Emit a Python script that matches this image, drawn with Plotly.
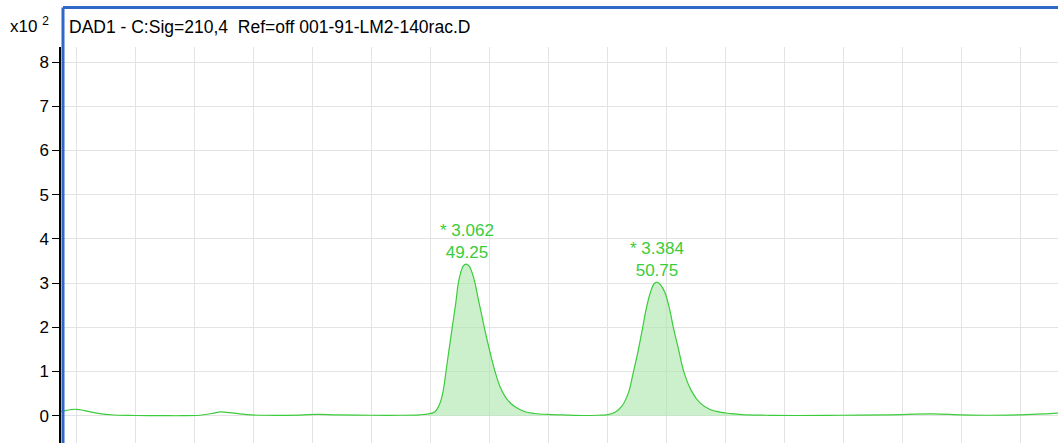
import plotly.graph_objects as go

# Retention time (min) and signal (x100 mAU)
base_start_t = [2.3746, 2.378, 2.390, 2.401, 2.413, 2.437, 2.465, 2.50, 2.55,
                2.58, 2.61, 2.63, 2.645, 2.66, 2.69, 2.72, 2.78, 2.81, 2.84,
                2.90, 2.95, 2.983]
base_start_y = [0.10, 0.106, 0.135, 0.145, 0.12, 0.054, 0.016, 0.005, 0.0,
                0.0, 0.01, 0.05, 0.085, 0.07, 0.025, 0.01, 0.015, 0.03, 0.02,
                0.01, 0.01, 0.02]

peak1_t = [2.9972, 3.0085, 3.0169, 3.0226, 3.0271, 3.0322, 3.0378, 3.0436,
           3.0480, 3.0525, 3.0565, 3.0610, 3.0661, 3.0707, 3.0763, 3.0819,
           3.0876, 3.0920, 3.0988, 3.1046, 3.1102, 3.1186, 3.1300, 3.1441,
           3.1610, 3.1780, 3.1995]
peak1_y = [0.04, 0.09, 0.28, 0.58, 1.0, 1.49, 2.01, 2.54,
           3.0, 3.26, 3.39, 3.43, 3.39, 3.26, 3.0, 2.63,
           2.28, 2.0, 1.6, 1.28, 1.0, 0.66, 0.38, 0.20,
           0.09, 0.05, 0.03]

base_mid_t = [3.23, 3.26, 3.285]
base_mid_y = [0.015, 0.005, 0.01]

peak2_t = [3.2995, 3.3136, 3.3249, 3.3361, 3.3446, 3.3531, 3.3605, 3.3673,
           3.3741, 3.3802, 3.3853, 3.3910, 3.3983, 3.4056, 3.4124, 3.4208,
           3.4305, 3.4436, 3.4576, 3.4746, 3.4915, 3.5085, 3.528]
peak2_y = [0.02, 0.08, 0.21, 0.51, 0.98, 1.49, 2.0, 2.47,
           2.81, 2.99, 3.02, 2.96, 2.78, 2.44, 2.0, 1.53,
           0.98, 0.55, 0.29, 0.14, 0.08, 0.05, 0.025]

base_end_t = [3.57, 3.62, 3.70, 3.78, 3.85, 3.90, 3.95, 4.00, 4.04, 4.0644]
base_end_y = [0.01, 0.005, 0.01, 0.02, 0.04, 0.02, 0.01, 0.02, 0.04, 0.06]

peak_rt = [3.062, 3.384]
peak_height = [3.43, 3.02]
peak_area_pct = ["49.25", "50.75"]

y_ticks = [0, 1, 2, 3, 4, 5, 6, 7, 8]
title_text = "DAD1 - C:Sig=210,4  Ref=off 001-91-LM2-140rac.D"

time = base_start_t + peak1_t + base_mid_t + peak2_t + base_end_t
signal = base_start_y + peak1_y + base_mid_y + peak2_y + base_end_y

FONT = "Liberation Sans, Arial, sans-serif"
GREEN = "#3acc3a"
FILL = "rgba(170,230,170,0.6)"

W, H = 1058, 443
L, T = 61, 47
PW, PH = W - L, H - T

fig = go.Figure()

for xs, ys in [(peak1_t, peak1_y), (peak2_t, peak2_y)]:
    fig.add_trace(go.Scatter(x=xs, y=ys, mode="lines", fill="tozeroy",
                             fillcolor=FILL, line=dict(width=0, shape="spline", smoothing=1),
                             hoverinfo="skip", showlegend=False))

fig.add_trace(go.Scatter(x=time, y=signal, mode="lines",
                         line=dict(color=GREEN, width=1.2, shape="spline", smoothing=1),
                         showlegend=False))

for rt, h, pct in zip(peak_rt, peak_height, peak_area_pct):
    fig.add_annotation(x=rt, y=h, text=f"* {rt:.3f}<br>{pct}", showarrow=False,
                       yanchor="bottom", xanchor="center", yshift=0,
                       font=dict(family=FONT, size=17, color=GREEN))

# header texts
fig.add_annotation(xref="paper", yref="paper", x=(67 - L) / PW, y=1 + (T - 27) / PH,
                   xanchor="left", yanchor="middle", showarrow=False, text=title_text,
                   font=dict(family=FONT, size=17.5, color="black"))
fig.add_annotation(xref="paper", yref="paper", x=(8 - L) / PW, y=1 + (T - 25) / PH,
                   xanchor="left", yanchor="middle", showarrow=False, text="x10 <sup>2</sup>",
                   font=dict(family=FONT, size=17, color="black"))

# blue frame
bx = (63 - L) / PW
by = 1 + (T - 7.5) / PH
fig.add_shape(type="line", xref="paper", yref="paper", x0=bx, x1=bx, y0=-0.05, y1=by,
              line=dict(color="#3068c8", width=3))
fig.add_shape(type="line", xref="paper", yref="paper", x0=bx, x1=1.05, y0=by, y1=by,
              line=dict(color="#3068c8", width=3))

x_min = 2.4 + (L - 76) / 590
x_max = 2.4 + (W - 76) / 590
y_max = (415.7 - T) / 44.2
y_min = (415.7 - H) / 44.2

fig.update_layout(
    width=W, height=H,
    margin=dict(l=L, r=0, t=T, b=0),
    paper_bgcolor="white", plot_bgcolor="white",
    font=dict(family=FONT, size=16, color="black"),
    xaxis=dict(range=[x_min, x_max], tick0=2.4, dtick=0.1, showgrid=True,
               gridcolor="#e3e3e3", gridwidth=1, showticklabels=False,
               zeroline=False, showline=False, ticks=""),
    yaxis=dict(range=[y_min, y_max], tickvals=y_ticks, showgrid=True,
               gridcolor="#e3e3e3", gridwidth=1, zeroline=False,
               showline=True, linecolor="black", linewidth=1.5,
               ticks="outside", ticklen=7, tickcolor="black",
               tickfont=dict(family=FONT, size=17, color="black")),
)

fig.write_html("out.html", config={"displayModeBar": False},
               post_script="document.body.style.margin='0px';")
